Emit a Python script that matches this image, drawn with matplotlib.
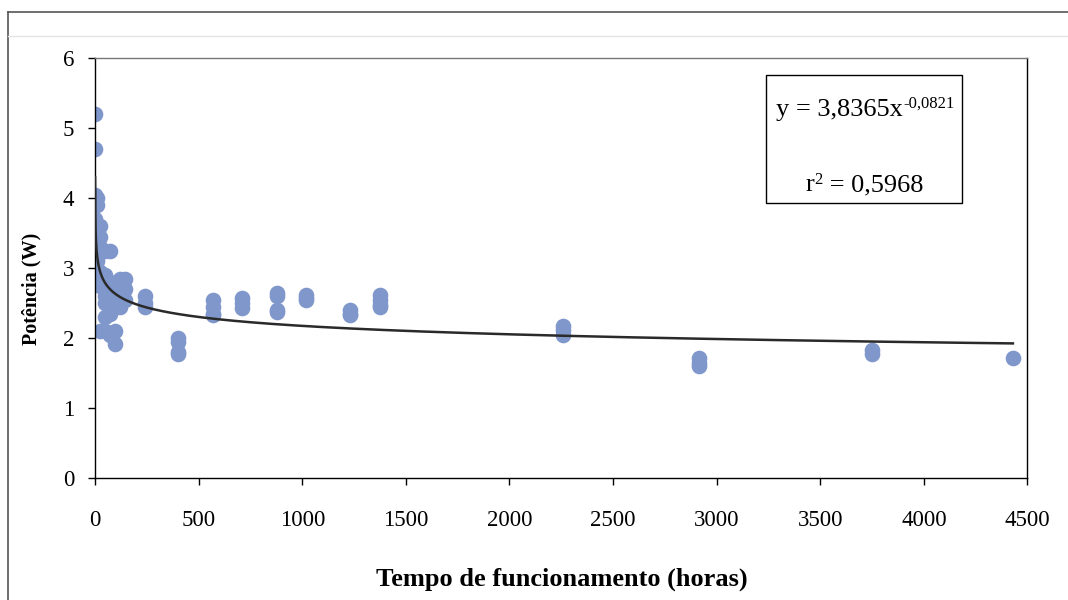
import numpy as np
import matplotlib
matplotlib.use("Agg")
import matplotlib.pyplot as plt
from matplotlib.lines import Line2D

plt.rcParams['font.family'] = ['Liberation Serif', 'DejaVu Serif']

# Measurement times (hours) and measured power (W) at each time
times = [0, 10, 24, 48, 72, 96, 120, 144, 240, 400, 570, 710, 880,
         1020, 1230, 1375, 2260, 2915, 3750, 4430]
power = [
    [5.2, 4.7, 4.05, 3.95, 3.7, 3.4, 3.15],
    [4.0, 3.9, 3.6, 3.3, 3.1, 2.8],
    [3.6, 3.45, 3.3, 2.95, 2.75, 2.1],
    [3.25, 2.9, 2.6, 2.5, 2.3, 2.1],
    [3.25, 2.8, 2.55, 2.35, 2.05],
    [2.75, 2.6, 2.45, 2.1, 1.92],
    [2.85, 2.7, 2.5, 2.45],
    [2.85, 2.7, 2.55],
    [2.6, 2.5, 2.45],
    [2.0, 1.95, 1.8, 1.78],
    [2.55, 2.45, 2.35, 2.33],
    [2.58, 2.5, 2.43],
    [2.65, 2.6, 2.4, 2.38],
    [2.62, 2.58, 2.55],
    [2.4, 2.35, 2.33],
    [2.62, 2.55, 2.48, 2.45],
    [2.18, 2.12, 2.05],
    [1.72, 1.65, 1.6],
    [1.83, 1.78],
    [1.72],
]

# power-law trend line from the chart
coef_a = 3.8365
coef_b = -0.0821

x_pts = [t for t, vals in zip(times, power) for _ in vals]
y_pts = [v for vals in power for v in vals]

fig = plt.figure(figsize=(10.68, 6), dpi=100)
ax = fig.add_axes([0.089, 0.203, 0.873, 0.700])

ax.scatter(x_pts, y_pts, s=105, color='#7f97ca', edgecolors='#7f97ca', zorder=2)

xf = np.geomspace(0.25, max(times), 400)
ax.plot(xf, coef_a * xf ** coef_b, color='#2a2a2a', lw=1.8, zorder=3)

ax.set_xlim(0, 4500)
ax.set_ylim(0, 6)
ax.set_xticks(range(0, 4501, 500))
ax.set_yticks(range(0, 7))
ax.tick_params(axis='both', direction='out', length=5, width=1, labelsize=16.5)
ax.tick_params(axis='x', pad=18)
ax.tick_params(axis='y', pad=10)
for sp in ax.spines.values():
    sp.set_color('black')
    sp.set_linewidth(1)
ax.spines['top'].set_color('#777777')

ax.set_ylabel('Potência (W)', fontsize=14.5, fontweight='bold')
ax.yaxis.set_label_coords(-0.057, 0.45)
fig.text(0.526, 0.034, 'Tempo de funcionamento (horas)', fontsize=19,
         fontweight='bold', ha='center', va='center')

# equation box
ax.add_patch(plt.Rectangle((0.72, 0.655), 0.21, 0.305, transform=ax.transAxes,
                           fill=False, edgecolor='black', lw=1, zorder=4))
t_eq = ax.text(0.7305, 0.877, 'y = 3,8365x', transform=ax.transAxes,
               fontsize=19, ha='left', va='center')
ax.annotate('-0,0821', xy=(1, 1), xycoords=t_eq, xytext=(0, 2),
            textcoords='offset points', fontsize=12, ha='left', va='top')
t_r = ax.text(0.762, 0.697, 'r', transform=ax.transAxes,
              fontsize=19, ha='left', va='center')
t_sup = ax.annotate('2', xy=(1, 1), xycoords=t_r, xytext=(0, 2),
                    textcoords='offset points', fontsize=12, ha='left', va='top')
ax.annotate(' = 0,5968', xy=(1, 0), xycoords=(t_sup, t_r), fontsize=19,
            ha='left', va='bottom')

# outer chart frame
fig.add_artist(Line2D([0.0075, 0.0075], [0, 0.98], transform=fig.transFigure,
                      color='#555555', lw=1.2))
fig.add_artist(Line2D([0.0075, 1], [0.98, 0.98], transform=fig.transFigure,
                      color='#555555', lw=1.2))
fig.add_artist(Line2D([0.0075, 1], [0.94, 0.94], transform=fig.transFigure,
                      color='#e4e4e4', lw=1))

fig.savefig('out.png', dpi=100)
